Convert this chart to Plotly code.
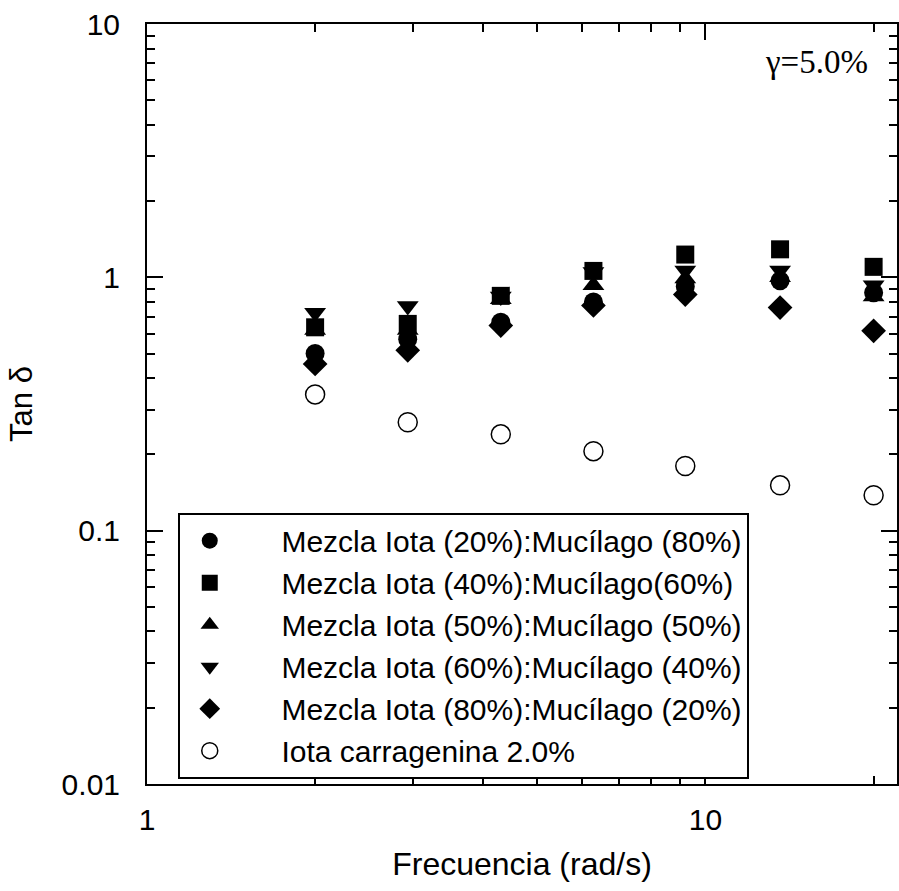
import plotly.graph_objects as go

# ---- data ----
freq = [2.0, 2.93, 4.3, 6.3, 9.2, 13.6, 20.0]

mez_20_80 = [0.50, 0.57, 0.665, 0.80, 0.92, 0.97, 0.87]
mez_40_60 = [0.635, 0.655, 0.845, 1.06, 1.23, 1.29, 1.10]
mez_50_50 = [0.62, 0.62, 0.82, 0.93, 0.99, 1.00, 0.84]
mez_60_40 = [0.725, 0.77, 0.84, 1.05, 1.065, 1.065, 0.93]
mez_80_20 = [0.455, 0.515, 0.645, 0.775, 0.855, 0.76, 0.615]
iota_2 = [0.345, 0.268, 0.240, 0.206, 0.180, 0.151, 0.138]

names = [
    "Mezcla Iota (20%):Mucílago (80%)",
    "Mezcla Iota (40%):Mucílago(60%)",
    "Mezcla Iota (50%):Mucílago (50%)",
    "Mezcla Iota (60%):Mucílago (40%)",
    "Mezcla Iota (80%):Mucílago (20%)",
    "Iota carragenina 2.0%",
]
series = [mez_20_80, mez_40_60, mez_50_50, mez_60_40, mez_80_20, iota_2]
symbols = ["circle", "square", "triangle-up", "triangle-down", "diamond", "circle-open"]
sizes = [19, 18, 19, 19, 19, 19]

x_ticks = [1, 10]
x_ticklabels = ["1", "10"]
x_minor = [2, 3, 4, 5, 6, 7, 8, 9, 20]
y_ticks = [0.01, 0.1, 1, 10]
y_ticklabels = ["0.01", "0.1", "1", "10"]
y_minor = [v * m for m in (0.01, 0.1, 1) for v in range(2, 10)]

FONT = "Liberation Sans, Arial, Helvetica, sans-serif"
PAD = "\u00a0" * 5  # gap between legend symbol and its text, as in the reference

fig = go.Figure()
for i in range(6):
    fig.add_trace(go.Scatter(
        x=freq, y=series[i], mode="markers", name=PAD + names[i],
        marker=dict(symbol=symbols[i], size=sizes[i], color="black",
                    line=dict(color="black", width=1.5 if i == 5 else 0)),
    ))

fig.update_xaxes(
    type="log", range=[0, 1.3429],
    tickvals=x_ticks, ticktext=x_ticklabels,
    ticks="inside", ticklen=16, tickwidth=2, tickcolor="black",
    minor=dict(tickvals=x_minor, ticks="inside", ticklen=8, tickwidth=1.5, tickcolor="black"),
    showline=True, linewidth=2, linecolor="black", mirror="ticks",
    showgrid=False, zeroline=False,
    tickfont=dict(family=FONT, size=30, color="black"),
    ticklabelstandoff=8,
    title=dict(text="Frecuencia (rad/s)", font=dict(family=FONT, size=32, color="black"), standoff=18),
)
fig.update_yaxes(
    type="log", range=[-2, 1],
    tickvals=y_ticks, ticktext=y_ticklabels,
    ticks="inside", ticklen=16, tickwidth=2, tickcolor="black",
    minor=dict(tickvals=y_minor, ticks="inside", ticklen=8, tickwidth=1.5, tickcolor="black"),
    showline=True, linewidth=2, linecolor="black", mirror="ticks",
    showgrid=False, zeroline=False,
    tickfont=dict(family=FONT, size=30, color="black"),
    ticklabelstandoff=19,
    title=dict(text="Tan δ", font=dict(family=FONT, size=31, color="black"), standoff=20),
)

fig.add_annotation(
    x=0.892, y=0.95, xref="paper", yref="paper", showarrow=False,
    xanchor="center", yanchor="middle",
    text="γ=5.0%", font=dict(family="Liberation Serif, Times New Roman, serif", size=33, color="black"),
)

fig.update_layout(
    width=899, height=891,
    margin=dict(l=147, r=0, t=24, b=107),
    paper_bgcolor="white", plot_bgcolor="white",
    showlegend=True,
    legend=dict(
        x=0.041, y=0.357, xanchor="left", yanchor="top",
        bgcolor="white", bordercolor="black", borderwidth=2,
        font=dict(family=FONT, size=30, color="black"),
        itemwidth=50, itemsizing="trace",
    ),
)

fig.write_html(
    "out.html",
    config={"displayModeBar": False},
    post_script="document.body.style.margin='0';document.body.style.overflow='hidden';",
)
